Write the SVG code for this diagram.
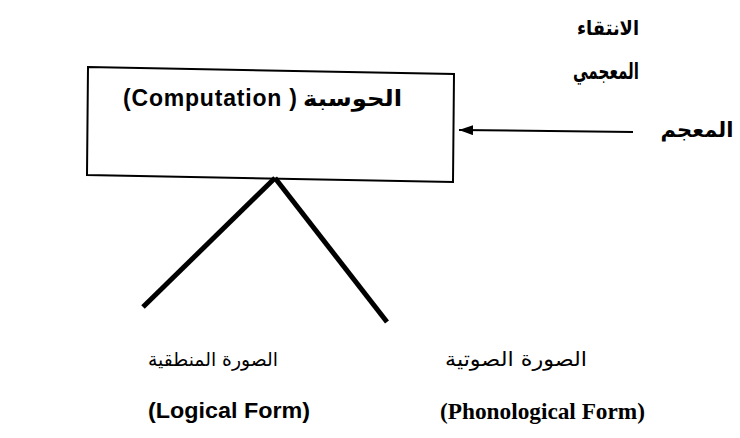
<svg xmlns="http://www.w3.org/2000/svg" width="740" height="438" viewBox="0 0 740 438">
<style>
.ar{font-family:"DejaVu Sans",sans-serif;fill:#000;}
.arb{font-family:"DejaVu Sans",sans-serif;font-weight:bold;fill:#000;}
.en{font-family:"Liberation Sans",Arial,sans-serif;font-weight:bold;fill:#000;}
.ens{font-family:"Liberation Serif","Times New Roman",serif;font-weight:bold;fill:#000;}
.box{fill:#fff;stroke:#000;stroke-width:2;}
.leg{stroke:#000;stroke-width:5;fill:none;stroke-linecap:butt;}
.conn{stroke:#000;stroke-width:2;fill:none;}
</style>
<defs>
<marker id="ah" markerWidth="14" markerHeight="10" refX="14" refY="5" orient="auto" markerUnits="userSpaceOnUse">
<path d="M0,0 L14,5 L0,10 Z" fill="#000"/>
</marker>
</defs>
<rect width="740" height="438" fill="#fff"/>
<g id="computation">
<polygon class="box" points="88,67 454,74 453,182 87,175"/>
<text class="en" x="123" y="106" font-size="23" textLength="174" lengthAdjust="spacing">(Computation )</text>
<text class="arb" x="402" y="106" font-size="22" text-anchor="end" textLength="99" lengthAdjust="spacingAndGlyphs">الحوسبة</text>
</g>
<g id="lexical-selection">
<text class="arb" x="608" y="35" font-size="20" text-anchor="middle" textLength="62" lengthAdjust="spacingAndGlyphs">الانتقاء</text>
<text class="arb" x="606" y="79" font-size="23" text-anchor="middle" textLength="66" lengthAdjust="spacingAndGlyphs">المعجمي</text>
</g>
<g id="lexicon">
<text class="arb" x="697" y="137" font-size="21" text-anchor="middle" textLength="73" lengthAdjust="spacingAndGlyphs">المعجم</text>
</g>
<g id="logical-form">
<text class="ar" x="213" y="366" font-size="19" text-anchor="middle" textLength="130" lengthAdjust="spacingAndGlyphs">الصورة المنطقية</text>
<text class="en" x="148" y="418" font-size="22" textLength="162" lengthAdjust="spacingAndGlyphs">(Logical Form)</text>
</g>
<g id="phonological-form">
<text class="ar" x="516" y="366" font-size="20" text-anchor="middle" textLength="142" lengthAdjust="spacingAndGlyphs">الصورة الصوتية</text>
<text class="ens" x="440" y="419" font-size="23" textLength="205" lengthAdjust="spacingAndGlyphs">(Phonological Form)</text>
</g>
<g id="connectors">
<line class="conn" x1="633" y1="132" x2="459" y2="130" marker-end="url(#ah)"/>
<line class="leg" x1="275" y1="178" x2="143" y2="307"/>
<line class="leg" x1="275" y1="178" x2="387" y2="322"/>
</g>
</svg>
